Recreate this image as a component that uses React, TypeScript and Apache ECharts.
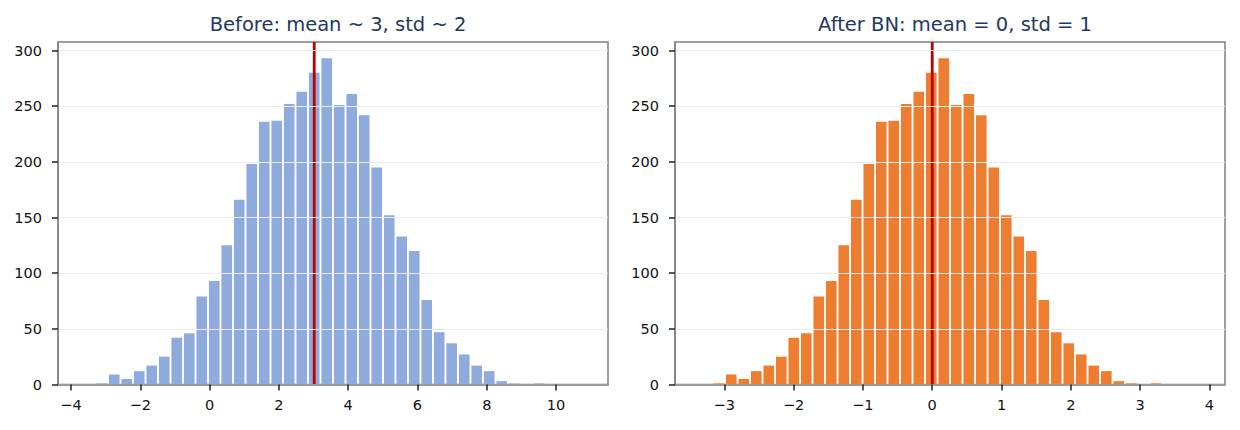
import { useEffect, useRef } from 'react';
import * as echarts from 'echarts';

// histogram counts (same 40 bins before and after the normalisation)
const binCounts = [
  0, 1, 9, 5, 12, 17, 25, 42, 46, 79,
  93, 125, 166, 198, 236, 237, 252, 263, 280, 293,
  251, 261, 242, 195, 152, 133, 120, 76, 47, 37,
  27, 17, 12, 3, 1, 0, 1, 0, 0, 0,
];

const beforeBinStart = -3.655;
const beforeBinWidth = 0.3608;
const afterBinStart = -3.35;
const afterBinWidth = 0.18034;

const beforeMean = 3.02;
const afterMean = 0;

const beforeXTicks = [-4, -2, 0, 2, 4, 6, 8, 10];
const afterXTicks = [-3, -2, -1, 0, 1, 2, 3, 4];
const yTicks = [0, 50, 100, 150, 200, 250, 300];

const beforeXRange = [-4.377, 11.5];
const afterXRange = [-3.711, 4.224];
const yMax = 307.7;

const titles = ['Before: mean ~ 3, std ~ 2', 'After BN: mean = 0, std = 1'];

const FONT = 'DejaVu Sans';
const RWIDTH = 0.85;

function histData(start: number, width: number) {
  const pad = (1 - RWIDTH) / 2;
  return binCounts.map((c, i) => [start + (i + pad) * width, start + (i + 1 - pad) * width, c]);
}

function fmtTick(v: number) {
  return v < 0 ? '\u2212' + Math.abs(v) : String(v);
}

export default function App() {
  const chartRef = useRef<HTMLDivElement>(null);

  useEffect(() => {
    if (!chartRef.current) return;
    const chart = echarts.init(chartRef.current, null, { renderer: 'svg' });

    const grids = [
      { left: 58, top: 42, width: 550, height: 342.5 },
      { left: 675, top: 42, width: 550, height: 342.5 },
    ];

    const xAxisBase = (idx: number, range: number[], ticks: number[]) => ({
      type: 'value' as const,
      gridIndex: idx,
      min: range[0],
      max: range[1],
      z: 5,
      axisLine: { show: true, onZero: false, lineStyle: { color: '#808080', width: 1.5 } },
      axisTick: { show: true, length: 6, customValues: ticks, lineStyle: { color: '#222', width: 1.5 } },
      axisLabel: {
        customValues: ticks,
        formatter: fmtTick,
        color: '#111',
        fontSize: 14.5,
        fontFamily: FONT,
        margin: 13,
      },
      splitLine: { show: false },
    });

    const yAxisBase = (idx: number) => ({
      type: 'value' as const,
      gridIndex: idx,
      min: 0,
      max: yMax,
      interval: 50,
      z: 5,
      axisLine: { show: true, onZero: false, lineStyle: { color: '#808080', width: 1.5 } },
      axisTick: { show: true, length: 6, customValues: yTicks, lineStyle: { color: '#222', width: 1.5 } },
      axisLabel: {
        customValues: yTicks,
        color: '#111',
        fontSize: 14.5,
        fontFamily: FONT,
        margin: 16,
      },
      splitLine: { show: true, lineStyle: { color: '#ebebeb', width: 1 } },
    });

    const histSeries = (idx: number, data: number[][], color: string) => ({
      type: 'custom' as const,
      xAxisIndex: idx,
      yAxisIndex: idx,
      z: 2,
      encode: { x: [0, 1], y: 2 },
      data,
      renderItem: (_params: any, api: any) => {
        const p0 = api.coord([api.value(0), api.value(2)]);
        const p1 = api.coord([api.value(1), 0]);
        return {
          type: 'rect',
          shape: { x: p0[0], y: p0[1], width: p1[0] - p0[0], height: p1[1] - p0[1] },
          style: { fill: color },
        };
      },
    });

    const meanSeries = (idx: number, mean: number) => ({
      type: 'line' as const,
      xAxisIndex: idx,
      yAxisIndex: idx,
      z: 4,
      symbol: 'none',
      data: [[mean, 0], [mean, yMax]],
      lineStyle: { color: '#c00000', width: 2.8, cap: 'butt' },
    });

    chart.setOption({
      animation: false,
      textStyle: { fontFamily: FONT },
      title: titles.map((t, i) => ({
        text: t,
        left: grids[i].left + grids[i].width / 2,
        top: 9,
        textAlign: 'center',
        textStyle: { color: '#1f3864', fontSize: 19.5, fontWeight: 'normal', fontFamily: FONT },
      })),
      grid: grids.map((g) => ({ ...g, show: true, borderColor: '#808080', borderWidth: 1.5, backgroundColor: 'transparent' })),
      xAxis: [
        xAxisBase(0, beforeXRange, beforeXTicks),
        xAxisBase(1, afterXRange, afterXTicks),
      ],
      yAxis: [yAxisBase(0), yAxisBase(1)],
      series: [
        histSeries(0, histData(beforeBinStart, beforeBinWidth), '#8faadc'),
        histSeries(1, histData(afterBinStart, afterBinWidth), '#ed7d31'),
        meanSeries(0, beforeMean),
        meanSeries(1, afterMean),
      ],
    });

    return () => {
      chart.dispose();
    };
  }, []);

  return (
    <div
      ref={chartRef}
      style={{ position: 'absolute', left: 0, top: 0, width: '1240px', height: '430px', background: '#fff' }}
    />
  );
}
